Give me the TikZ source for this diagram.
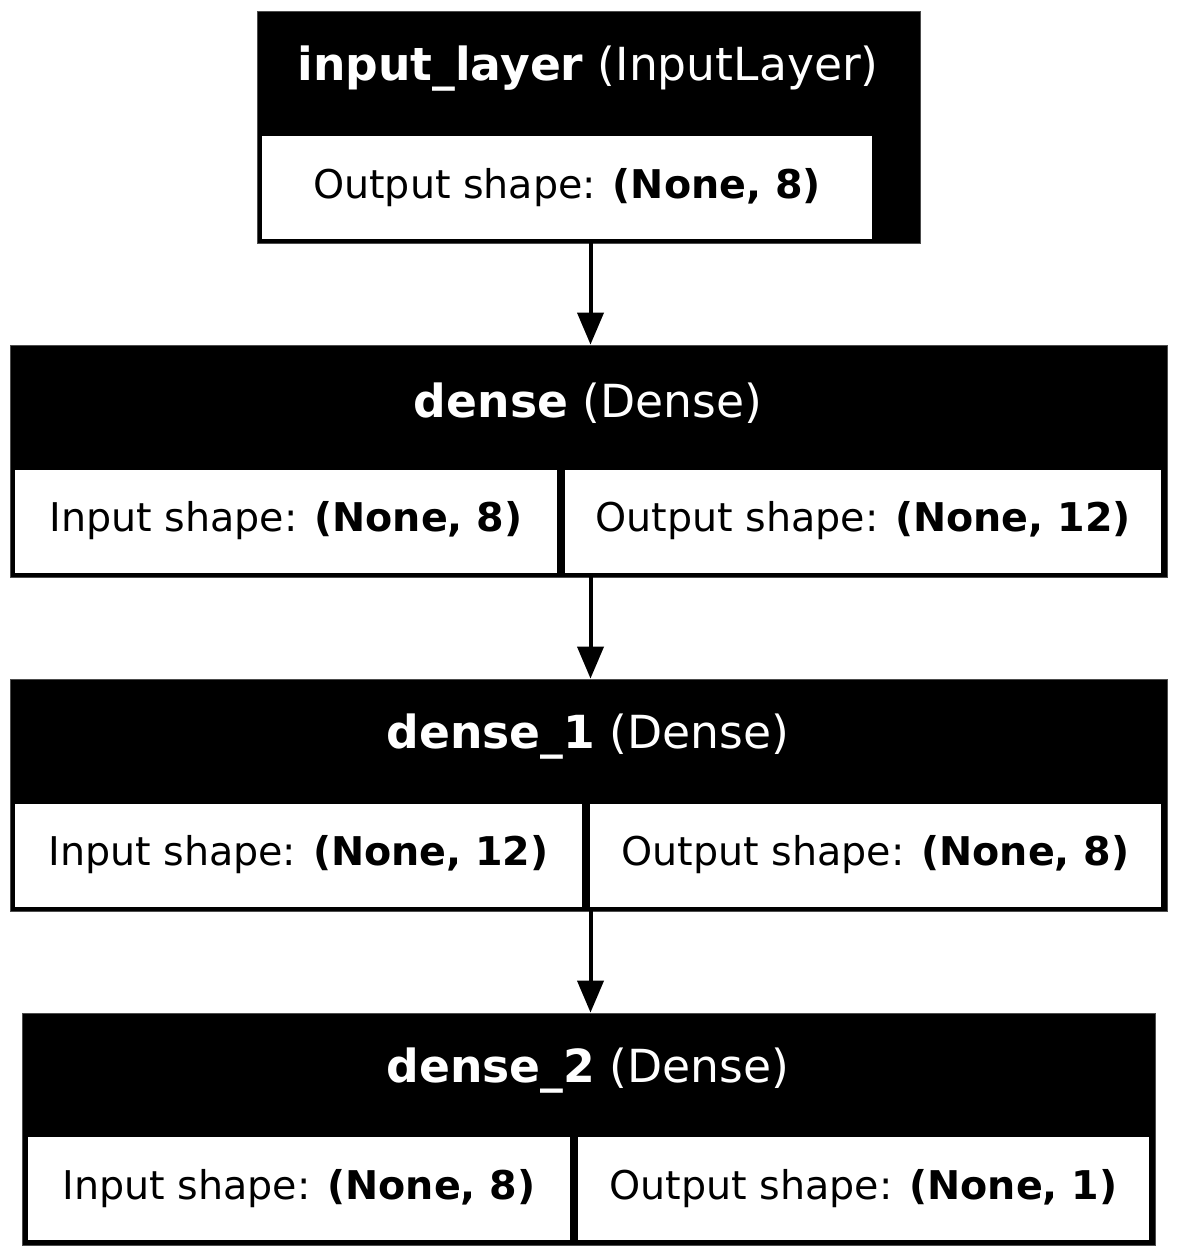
\documentclass[tikz,border=0pt]{standalone}
\usepackage{fontspec}
\setmainfont{DejaVu Sans}
\usetikzlibrary{arrows.meta}
\begin{document}
\begin{tikzpicture}[x=0.5pt,y=-0.5pt,
  layerbox/.style={fill=black, draw=black!70, line width=0.4pt, inner sep=0pt, minimum height=116pt},
  cellbox/.style={fill=white, draw=none, inner sep=0pt, minimum height=51.5pt, font=\fontsize{19.8}{23}\selectfont},
  titletext/.style={text=white, inner sep=0pt, font=\fontsize{22.8}{26}\selectfont},
  flow/.style={line width=2pt, -{Triangle[length=16pt,width=13pt]}}]
\useasboundingbox (0,0) rectangle (1178,1256);
\fill[white] (0,0) rectangle (1178,1256);

% input layer
\node[layerbox, minimum width=331.5pt] (b1) at (588.5,127) {};
\node[titletext] (t1) at (588,69) {\textbf{input\_layer} (InputLayer)};
\node[cellbox, minimum width=305pt] (b1o) at (567,187.5) {Output shape: \textbf{(None, 8)}};

% dense
\node[layerbox, minimum width=578.5pt] (b2) at (588.5,461) {};
\node[titletext] (t2) at (588,403) {\textbf{dense} (Dense)};
\node[cellbox, minimum width=271pt] (b2i) at (286,521) {Input shape: \textbf{(None, 8)}};
\node[cellbox, minimum width=298pt] (b2o) at (863,521) {Output shape: \textbf{(None, 12)}};

% dense_1
\node[layerbox, minimum width=578.5pt] (b3) at (588.5,795) {};
\node[titletext] (t3) at (588,737) {\textbf{dense\_1} (Dense)};
\node[cellbox, minimum width=283.5pt] (b3i) at (298.5,855) {Input shape: \textbf{(None, 12)}};
\node[cellbox, minimum width=285.5pt] (b3o) at (875.5,855) {Output shape: \textbf{(None, 8)}};

% dense_2
\node[layerbox, minimum width=566.5pt] (b4) at (588.5,1129) {};
\node[titletext] (t4) at (588,1071) {\textbf{dense\_2} (Dense)};
\node[cellbox, minimum width=271pt] (b4i) at (299,1188.5) {Input shape: \textbf{(None, 8)}};
\node[cellbox, minimum width=285.5pt] (b4o) at (863.5,1188.5) {Output shape: \textbf{(None, 1)}};

% connectors
\draw[flow] ([xshift=1pt]b1.south) -- ([xshift=1pt]b2.north);
\draw[flow] ([xshift=1pt]b2.south) -- ([xshift=1pt]b3.north);
\draw[flow] ([xshift=1pt]b3.south) -- ([xshift=1pt]b4.north);
\end{tikzpicture}
\end{document}
